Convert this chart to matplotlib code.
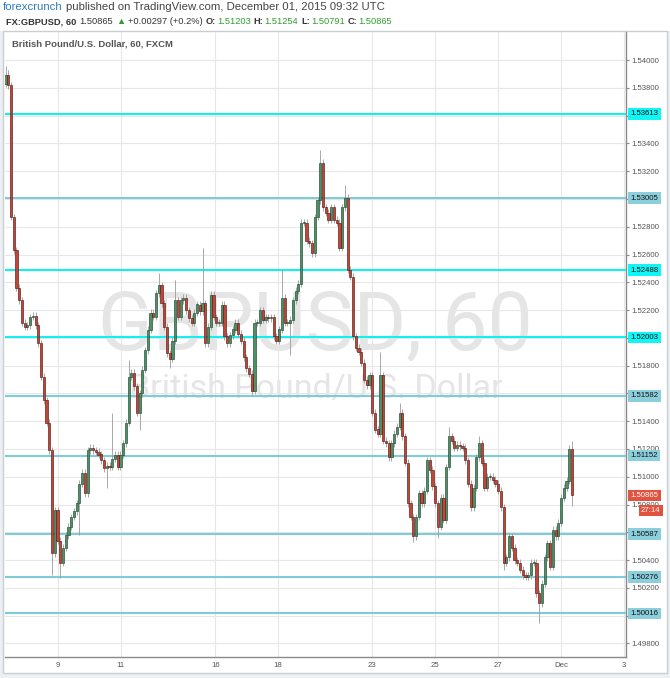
import numpy as np
import matplotlib.pyplot as plt
from matplotlib.patches import Rectangle
from matplotlib.text import Annotation

# ---------------------------------------------------------------------------
# Data: GBPUSD, bars roughly every 2 hours, Nov 5 -> Dec 1
# ---------------------------------------------------------------------------
first_open = 1.5383
closes = [
    1.5389, 1.5382, 1.5287, 1.5263, 1.5236, 1.5227, 1.5211, 1.5208, 1.5209, 1.5215,   # 0
    1.5216, 1.5209, 1.5196, 1.5172, 1.5155, 1.5139, 1.5119, 1.5045, 1.5076, 1.5054,   # 10
    1.5038, 1.5049, 1.5058, 1.5064, 1.5071, 1.5075, 1.5081, 1.5095, 1.5103, 1.5088,   # 20
    1.5119, 1.5121, 1.5119, 1.5118, 1.5116, 1.5112, 1.5106, 1.5108, 1.5107, 1.5113,   # 30
    1.5116, 1.5107, 1.5116, 1.5124, 1.5139, 1.5172, 1.5175, 1.5165, 1.5146, 1.5160,   # 40
    1.5177, 1.5191, 1.5206, 1.5218, 1.5215, 1.5232, 1.5238, 1.5225, 1.5208, 1.5189,   # 50
    1.5185, 1.5198, 1.5227, 1.5215, 1.5227, 1.5229, 1.5220, 1.5214, 1.5211, 1.5218,   # 60
    1.5224, 1.5219, 1.5225, 1.5196, 1.5208, 1.5231, 1.5215, 1.5211, 1.5211, 1.5224,   # 70
    1.5201, 1.5196, 1.5202, 1.5206, 1.5211, 1.5203, 1.5198, 1.5186, 1.5178, 1.5174,   # 80
    1.5162, 1.5211, 1.5211, 1.5220, 1.5213, 1.5215, 1.5214, 1.5215, 1.5201, 1.5198,   # 90
    1.5206, 1.5229, 1.5211, 1.5211, 1.5213, 1.5227, 1.5234, 1.5239, 1.5283, 1.5283,   # 100
    1.5270, 1.5268, 1.5261, 1.5287, 1.5299, 1.5326, 1.5294, 1.5290, 1.5285, 1.5294,   # 110
    1.5285, 1.5283, 1.5265, 1.5294, 1.5301, 1.5249, 1.5244, 1.5201, 1.5193, 1.5190,   # 120
    1.5182, 1.5170, 1.5166, 1.5173, 1.5146, 1.5134, 1.5131, 1.5173, 1.5126, 1.5124,   # 130
    1.5114, 1.5124, 1.5131, 1.5136, 1.5146, 1.5129, 1.5110, 1.5081, 1.5071, 1.5057,   # 140
    1.5071, 1.5088, 1.5081, 1.5090, 1.5112, 1.5105, 1.5093, 1.5081, 1.5064, 1.5085,   # 150
    1.5069, 1.5107, 1.5129, 1.5126, 1.5121, 1.5123, 1.5122, 1.5121, 1.5112, 1.5095,   # 160
    1.5078, 1.5092, 1.5114, 1.5124, 1.5110, 1.5092, 1.5100, 1.5100, 1.5098, 1.5095,   # 170
    1.5090, 1.5078, 1.5038, 1.5042, 1.5057, 1.5049, 1.5040, 1.5038, 1.5033, 1.5029,   # 180
    1.5028, 1.5029, 1.5038, 1.5038, 1.5016, 1.5009, 1.5023, 1.5042, 1.5052, 1.5035,   # 190
    1.5062, 1.5057, 1.5067, 1.5085, 1.5092, 1.5097, 1.5120, 1.50865,                  # 200
]

# wick extremes that stick out from the bodies (bar index -> price)
spike_hi = {0: 1.5396, 1: 1.5393, 39: 1.5146, 45: 1.5184, 56: 1.5247, 62: 1.5242,
            72: 1.5265, 101: 1.5249, 115: 1.5335, 124: 1.5310, 137: 1.5190,
            144: 1.5153, 162: 1.5136, 173: 1.5129, 207: 1.51254}
spike_lo = {17: 1.5029, 20: 1.5027, 27: 1.5058, 37: 1.5092, 49: 1.5134, 60: 1.5178,
            90: 1.5159, 104: 1.5188, 149: 1.5053, 158: 1.5056, 182: 1.5033,
            195: 1.4995, 207: 1.50791}
wick = 0.00025

levels = [1.53613, 1.53005, 1.52488, 1.52003, 1.51582, 1.51152, 1.50587, 1.50276, 1.50016]
level_bright = [True, False, True, True, False, False, False, False, False]

# time axis in trading days, 0 = Nov 9
first_bar_day = -1.67
last_bar_day = 16.35
day_ticks = [0, 2, 5, 7, 10, 12, 14, 16, 18]
day_labels = ["9", "11", "16", "18", "23", "25", "27", "Dec", "3"]

price_ticks = np.round(np.arange(1.498, 1.5401, 0.002), 3)
last_price = 1.50865
countdown = "27:14"

# ---------------------------------------------------------------------------
# Colours
# ---------------------------------------------------------------------------
UP_FACE, UP_EDGE = "#4E8F66", "#1F4A30"
DN_FACE, DN_EDGE = "#C0463A", "#5B1A13"
WICK = "#9A9A9A"
BRIGHT, PALE = "#14F0F0", "#7FCBD9"
BRIGHT_BOX, PALE_BOX = "#10F5F5", "#8CCFDC"
GREEN_TXT = "#2E9E2E"
DARK = "#333333"
FONT = ["Liberation Sans", "DejaVu Sans"]

W, H = 670, 678
fig = plt.figure(figsize=(W / 100, H / 100), dpi=100)
fig.patch.set_facecolor("white")


def fx(px):
    return px / W


def fy(py):
    return 1 - py / H


# grey surround and white chart frame (behind the axes)
fig.patches.append(Rectangle((0, 0), 1, fy(31), transform=fig.transFigure,
                             fc="#EDF0F3", ec="none", zorder=-2))
fig.patches.append(Rectangle((fx(3), fy(673)), 664 / W, (673 - 31) / H,
                             transform=fig.transFigure, fc="white",
                             ec="#C9CED3", lw=1, zorder=-1))

ax = fig.add_axes([fx(5), fy(657), 621 / W, 625 / H])
ax.set_facecolor("none")
ax.set_xlim(-1.686, 18.066)
ax.set_ylim(1.49702, 1.54202)

for side in ("top", "left"):
    ax.spines[side].set_visible(False)
for side in ("right", "bottom"):
    ax.spines[side].set_color("#8A8A8A")
    ax.spines[side].set_linewidth(1)

# price-scale labels that sit fully under a level tag are not shown
tick_text = []
for p in price_ticks:
    covered = any(abs(p - lvl) < 0.0003 for lvl in levels)
    tick_text.append("" if covered else f"{p:.5f}")

ax.yaxis.tick_right()
ax.set_yticks(price_ticks)
ax.set_yticklabels(tick_text)
ax.set_xticks(day_ticks)
ax.set_xticklabels(day_labels)
ax.tick_params(axis="y", length=2.5, width=0.8, color="#8A8A8A", pad=1.5,
               labelsize=5.6, labelcolor="#555555")
ax.tick_params(axis="x", length=0, pad=3.8, labelsize=5.6, labelcolor="#555555")
for lab in ax.get_xticklabels() + ax.get_yticklabels():
    lab.set_family(FONT)
ax.grid(True, color="#E7E7E7", lw=0.8)

# watermark
ax.text(fx(315), fy(350), "GBPUSD, 60", transform=fig.transFigure, ha="center",
        va="baseline", fontsize=58, family=["Roboto", "DejaVu Sans"],
        color="#E5E5E5", zorder=1)
ax.text(fx(316), fy(398), "British Pound/U.S. Dollar", transform=fig.transFigure,
        ha="center", va="baseline", fontsize=24.5, family=["Roboto", "DejaVu Sans"],
        color="#E5E5E5", zorder=1)

# candles
n = len(closes)
days = np.linspace(first_bar_day, last_bar_day, n)
c = np.array(closes)
o = np.array([first_open] + closes[:-1])
hi = np.maximum(o, c) + wick
lo = np.minimum(o, c) - wick
for i, v in spike_hi.items():
    hi[i] = v
for i, v in spike_lo.items():
    lo[i] = v

step = days[1] - days[0]
up = c >= o
ax.vlines(days, lo, hi, color=WICK, lw=0.6, zorder=3)
body_h = np.maximum(np.abs(c - o), 0.00004)
ax.bar(days[up], body_h[up], bottom=np.minimum(o, c)[up], width=step * 0.8,
       color=UP_FACE, edgecolor=UP_EDGE, lw=0.45, zorder=4)
ax.bar(days[~up], body_h[~up], bottom=np.minimum(o, c)[~up], width=step * 0.8,
       color=DN_FACE, edgecolor=DN_EDGE, lw=0.45, zorder=4)

# horizontal levels with their price-scale labels
for lvl, bright in zip(levels, level_bright):
    ax.axhline(lvl, color=BRIGHT if bright else PALE, lw=1.5, zorder=2.6)
    ax.annotate(f"{lvl:.5f}", xy=(1, lvl), xycoords=("axes fraction", "data"),
                xytext=(3.2, 0), textcoords="offset points", ha="left", va="center",
                fontsize=5.6, family=FONT, color="#111111",
                bbox=dict(boxstyle="square,pad=0.3",
                          fc=BRIGHT_BOX if bright else PALE_BOX, ec="none"),
                annotation_clip=False, zorder=6)

# last price tag and bar countdown
ax.annotate(f"{last_price:.5f}", xy=(1, last_price), xycoords=("axes fraction", "data"),
            xytext=(3.2, 0), textcoords="offset points", ha="left", va="center",
            fontsize=5.6, family=FONT, color="white",
            bbox=dict(boxstyle="square,pad=0.3", fc="#E0533F", ec="none"),
            annotation_clip=False, zorder=7)
ax.annotate(countdown, xy=(1, last_price), xycoords=("axes fraction", "data"),
            xytext=(25.0, -10.8), textcoords="offset points", ha="right", va="center",
            fontsize=5.6, family=FONT, color="white",
            bbox=dict(boxstyle="square,pad=0.3", fc="#E0533F", ec="none"),
            annotation_clip=False, zorder=7)


# header text runs
def text_run(x, y, parts, size):
    prev = fig.text(fx(x), fy(y), parts[0][0], color=parts[0][1],
                    weight=parts[0][2], fontsize=size, family=FONT, va="center")
    for s, col, wt, gap in parts[1:]:
        a = Annotation(s, xy=(1, 0.5), xycoords=prev, xytext=(gap, 0),
                       textcoords="offset points", va="center", ha="left",
                       color=col, weight=wt, fontsize=size, family=FONT)
        fig.add_artist(a)
        prev = a


sp = 2.2
text_run(3, 7.5, [("forexcrunch", "#2F7DB8", "normal"),
                  ("published on TradingView.com, December 01, 2015 09:32 UTC",
                   "#444444", "normal", sp)], 8.2)
text_run(6, 21.7, [("FX:GBPUSD, 60", DARK, "bold"),
                   ("1.50865", DARK, "normal", sp),
                   ("\u25B2", GREEN_TXT, "normal", sp),
                   ("+0.00297 (+0.2%)", DARK, "normal", sp),
                   ("O:", DARK, "bold", sp),
                   ("1.51203", GREEN_TXT, "normal", 0.6),
                   ("H:", DARK, "bold", sp),
                   ("1.51254", GREEN_TXT, "normal", 0.6),
                   ("L:", DARK, "bold", sp),
                   ("1.50791", GREEN_TXT, "normal", 0.6),
                   ("C:", DARK, "bold", sp),
                   ("1.50865", GREEN_TXT, "normal", 0.6)], 6.7)

fig.text(fx(12), fy(44.3), "British Pound/U.S. Dollar, 60, FXCM", color="#555555",
         weight="bold", fontsize=6.8, family=FONT, va="center")

fig.savefig("out.png", dpi=100)
